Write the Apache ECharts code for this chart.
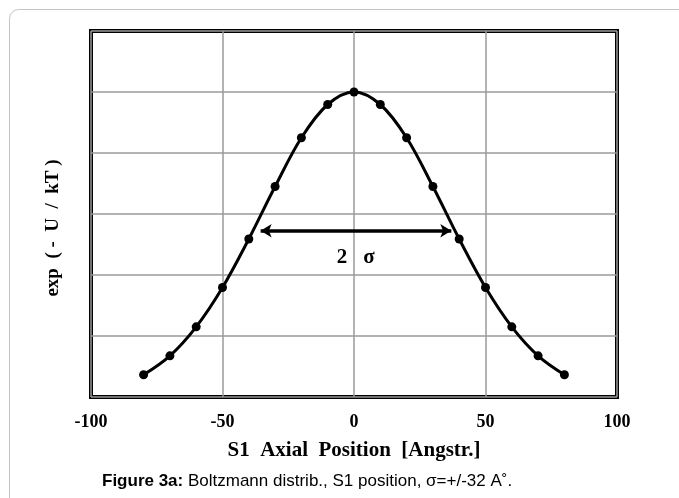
<!DOCTYPE html>
<html>
<head>
<meta charset="utf-8">
<script src="https://cdn.jsdelivr.net/npm/echarts@6/dist/echarts.min.js"></script>
<style>
html,body{margin:0;padding:0;background:#fff;}
#chart{width:679px;height:498px;}
</style>
</head>
<body>
<div id="chart"></div>
<script>
// Data
const positions = [-80, -70, -60, -50, -40, -30, -20, -10, 0, 10, 20, 30, 40, 50, 60, 70, 80];
const boltzmann = [0.073, 0.135, 0.230, 0.359, 0.518, 0.690, 0.850, 0.959, 1.0, 0.959, 0.850, 0.690, 0.518, 0.359, 0.230, 0.135, 0.073];
const sigmaArrow = [[-35.5, 0.545], [37, 0.545]];
const xTicks = [-100, -50, 0, 50, 100];
const xAxisTitle = 'S1  Axial  Position  [Angstr.]';
const yAxisTitle = 'exp  ( -  U  /  kT )';
const captionBold = 'Figure 3a:';
const captionRest = ' Boltzmann distrib., S1 position, σ=+/-32 A˚.';

const chart = echarts.init(document.getElementById('chart'));
const serif = '"Liberation Serif", "Times New Roman", serif';

chart.setOption({
  animation: false,
  backgroundColor: '#fff',
  grid: {
    left: 91, right: 62, top: 31, bottom: 101,
    show: true, borderColor: '#000', borderWidth: 4, backgroundColor: 'transparent'
  },
  xAxis: {
    type: 'value', min: -100, max: 100, interval: 50,
    axisLine: {show: false}, axisTick: {show: false},
    splitLine: {show: true, lineStyle: {color: '#9a9a9a', width: 1.5}},
    axisLabel: {
      color: '#000', fontFamily: serif, fontWeight: 'bold', fontSize: 18, margin: 16,
      formatter: v => xTicks.includes(v) ? String(v) : ''
    },
    name: xAxisTitle, nameLocation: 'middle', nameGap: 43,
    nameTextStyle: {color: '#000', fontFamily: serif, fontWeight: 'bold', fontSize: 21}
  },
  yAxis: {
    type: 'value', min: 0, max: 1.2, interval: 0.2,
    axisLine: {show: false}, axisTick: {show: false}, axisLabel: {show: false},
    splitLine: {show: true, lineStyle: {color: '#9a9a9a', width: 1.5}}
  },
  series: [{
    type: 'line',
    data: positions.map((x, i) => [x, boltzmann[i]]),
    smooth: 0.35,
    symbol: 'circle', symbolSize: 9,
    lineStyle: {color: '#000', width: 3},
    itemStyle: {color: '#000'},
    markLine: {
      silent: true,
      symbol: ['arrow', 'arrow'], symbolSize: [10, 11],
      lineStyle: {color: '#000', width: 3.5, type: 'solid'},
      label: {show: false},
      data: [[{coord: sigmaArrow[0]}, {coord: sigmaArrow[1]}]]
    }
  }],
  graphic: [
    {type: 'rect', shape: {x: 9.5, y: 9.5, width: 720, height: 540, r: 9},
     style: {fill: 'none', stroke: '#c4c4c4', lineWidth: 1}, z: -10},
    {type: 'text', x: 53, y: 228, rotation: Math.PI / 2, style: {
      text: yAxisTitle, font: 'bold 19px ' + serif, fill: '#000', textAlign: 'center', textVerticalAlign: 'middle'}},
    {type: 'text', x: 342, y: 258, style: {text: '2', font: 'bold 21px ' + serif, fill: '#000', textAlign: 'center', textVerticalAlign: 'middle'}},
    {type: 'text', x: 369, y: 258, style: {text: 'σ', font: 'bold 21px ' + serif, fill: '#000', textAlign: 'center', textVerticalAlign: 'middle'}},
    {type: 'text', x: 102, y: 481, style: {
      text: '{b|' + captionBold + '}{r|' + captionRest + '}',
      textVerticalAlign: 'middle',
      rich: {
        b: {fontFamily: '"Liberation Sans", Arial, sans-serif', fontWeight: 'bold', fontSize: 17, fill: '#000'},
        r: {fontFamily: '"Liberation Sans", Arial, sans-serif', fontSize: 17, fill: '#000'}
      }
    }}
  ]
});
</script>
</body>
</html>
